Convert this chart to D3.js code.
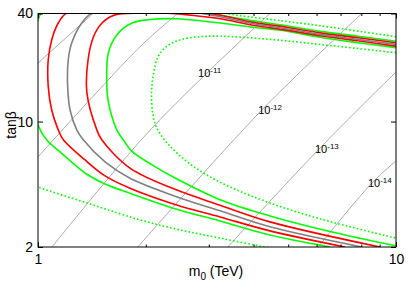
<!DOCTYPE html>
<html>
<head>
<meta charset="utf-8">
<script src="https://cdn.jsdelivr.net/npm/d3@7"></script>
<style>
  body { margin: 0; background: #fff; }
  svg text { font-family: "Liberation Sans", Arial, sans-serif; fill: #000; }
</style>
</head>
<body>
<svg id="chart" width="415" height="291"></svg>
<script>
// axis ticks
const xTicks = [1, 10];
const xMinorTicks = [2, 3, 4, 5, 6, 7, 8, 9];
const yTicks = [2, 10, 40];

// contours, points are [m0 (TeV), tanβ]
const dottedInner = [
  [10, 24.2], [6.13, 26.9], [4.45, 28.7], [3.23, 29.9], [2.84, 29.7], [2.49, 28.5],
  [2.28, 26.1], [2.16, 22.7], [2.10, 18.2], [2.075, 14.1], [2.096, 10.9], [2.146, 9.22],
  [2.307, 7.51], [2.574, 6.11], [2.927, 5.11], [3.439, 4.32], [4.446, 3.52], [6.134, 2.87], [10, 2.24]
];
const greenInner = [
  [10, 25.8], [7.83, 27.5], [6.13, 29.5], [4.95, 31.9], [3.99, 33.5], [3.23, 35.4],
  [2.41, 37.4], [2.03, 36.9], [1.83, 35.4], [1.66, 30.4], [1.572, 24.1], [1.556, 17.8],
  [1.569, 13.2], [1.66, 8.99], [1.731, 7.91], [1.827, 6.84], [2.078, 5.75], [2.414, 4.85],
  [3.225, 3.67], [4.446, 2.98], [6.54, 2.44], [10, 2.03]
];
const redInner = [
  [10, 26.3], [7.83, 28.2], [6.13, 30.1], [4.95, 32.3], [3.99, 34.4], [3.23, 37.4],
  [2.84, 38.6], [2.31, 40.2], [1.93, 40.2], [1.64, 39.3], [1.51, 35.4], [1.43, 29.8],
  [1.38, 22.1], [1.37, 14.4], [1.46, 8.99], [1.507, 7.91], [1.807, 5.50], [2.414, 4.19],
  [3.225, 3.42], [4.446, 2.76], [9.02, 2.0]
];
const grayMid = [
  [10, 26.9], [7.83, 28.7], [6.13, 30.6], [4.95, 32.9], [3.99, 35.06], [3.23, 38.35],
  [2.84, 40.1], [2.34, 42.5], [1.807, 43.1], [1.539, 42.0], [1.41, 40.1], [1.325, 35.4],
  [1.242, 27.4], [1.215, 22.1], [1.21, 15.7], [1.229, 11.6], [1.283, 8.99], [1.338, 7.91],
  [1.539, 5.96], [1.807, 4.83], [2.414, 3.84], [3.225, 3.18], [4.446, 2.59], [8.02, 2.0]
];
const redOuter = [
  [10, 27.5], [7.83, 29.3], [6.13, 31.2], [4.95, 33.5], [3.99, 35.7], [3.23, 39.1],
  [2.95, 40.1], [2.49, 43.6], [1.81, 45.9], [1.397, 44.7], [1.197, 40.1], [1.139, 35.4],
  [1.092, 28.5], [1.068, 22.1], [1.068, 15.7], [1.092, 11.6], [1.139, 8.99], [1.177, 7.91],
  [1.353, 6.11], [1.539, 4.98], [1.807, 4.25], [2.414, 3.45], [3.225, 2.94], [4.446, 2.46], [7.203, 2.0]
];
const greenOuter = [
  [10, 28.0], [7.83, 29.9], [6.13, 31.8], [4.95, 34.2], [3.99, 36.4], [3.06, 40.1],
  [2.49, 44.7], [1.81, 48.3], [1.31, 47.7], [1.08, 44.7], [1.019, 40.1], [1.0, 36.9],
  [0.975, 28.5], [0.962, 19.4], [0.968, 13.2], [1.002, 9.46], [1.057, 7.91], [1.152, 6.78],
  [1.353, 5.17], [1.539, 4.49], [1.807, 3.99], [2.414, 3.27], [3.225, 2.79], [4.446, 2.33], [6.541, 2.0]
];
const dottedOuterTop = [
  [10, 29.7], [6.13, 34.2], [4.45, 37.1], [3.33, 40.1], [2.6, 45]
];
const dottedOuterBottom = [
  [0.9, 4.7], [1.0, 4.32], [1.40, 3.47], [1.93, 2.83], [2.49, 2.49], [3.23, 2.24], [4.31, 2.0], [5, 1.9]
];

// thin iso-lines and their labels
const isoLines = [
  [[1.0, 21.2], [1.427, 40.1]],
  [[1.0, 6.35], [1.927, 26.1], [2.46, 40.1]],
  [[1.094, 2.0], [1.965, 8.11], [2.985, 18.9], [4.45, 40.1]],
  [[1.90, 2.0], [4.22, 11.6], [8.04, 40.1]],
  [[3.39, 2.0], [6.06, 6.95], [10, 18.9]],
  [[6.06, 2.0], [8.57, 4.55], [10, 6.03]]
];
const isoLabels = ["-11", "-12", "-13", "-14"];
const isoLabelPos = [[2.80, 17.7], [4.12, 11.0], [5.94, 6.69], [8.35, 4.32]];

const svg = d3.select('#chart');
const pLeft = 38, pRight = 396, pTop = 13.5, pBottom = 247;

const x = d3.scaleLog().domain([1, 10]).range([pLeft, pRight]);
const y = d3.scaleLog().domain([2, 40]).range([pBottom, pTop]);

svg.append('clipPath').attr('id', 'plot-clip')
  .append('rect')
  .attr('x', pLeft).attr('y', pTop)
  .attr('width', pRight - pLeft).attr('height', pBottom - pTop);

const plot = svg.append('g').attr('clip-path', 'url(#plot-clip)');

const line = d3.line()
  .x(d => x(d[0]))
  .y(d => y(d[1]))
  .curve(d3.curveCatmullRom.alpha(0.5));

isoLines.forEach(pts => {
  plot.append('path')
    .attr('d', line(pts))
    .attr('fill', 'none')
    .attr('stroke', '#a0a0a0')
    .attr('stroke-width', 0.9);
});

const contours = [
  { pts: dottedInner, color: '#00ff00', dash: '1.6,2.2' },
  { pts: dottedOuterTop, color: '#00ff00', dash: '1.6,2.2' },
  { pts: dottedOuterBottom, color: '#00ff00', dash: '1.6,2.2' },
  { pts: greenInner, color: '#00ff00' },
  { pts: greenOuter, color: '#00ff00' },
  { pts: redInner, color: '#ff0000' },
  { pts: redOuter, color: '#ff0000' },
  { pts: grayMid, color: '#808080' }
];

contours.forEach(c => {
  plot.append('path')
    .attr('d', line(c.pts))
    .attr('fill', 'none')
    .attr('stroke', c.color)
    .attr('stroke-width', 1.6)
    .attr('stroke-dasharray', c.dash || null);
});

isoLabels.forEach((lab, i) => {
  const t = svg.append('text')
    .attr('x', x(isoLabelPos[i][0]))
    .attr('y', y(isoLabelPos[i][1]))
    .attr('font-size', 11);
  t.append('tspan').text('10');
  t.append('tspan').attr('dy', -4).attr('font-size', 8).text(lab);
});

// axes, ticks pointing inwards on all four sides
function addAxis(axis, tx, ty, vals, size, labels) {
  const g = svg.append('g')
    .attr('transform', `translate(${tx},${ty})`)
    .call(axis.tickValues(vals).tickSize(size).tickSizeOuter(0)
      .tickFormat(labels ? d3.format('d') : ''));
  g.select('.domain').remove();
  g.selectAll('line').attr('stroke', '#000');
  g.selectAll('text').attr('font-size', 14).attr('font-family', '"Liberation Sans", Arial, sans-serif');
  return g;
}

const xb = addAxis(d3.axisBottom(x), 0, pBottom, xTicks, -5, true);
xb.selectAll('text').attr('y', 7);
addAxis(d3.axisBottom(x), 0, pBottom, xMinorTicks, -2.5, false);
addAxis(d3.axisTop(x), 0, pTop, xTicks, -5, false);
addAxis(d3.axisTop(x), 0, pTop, xMinorTicks, -2.5, false);

const yl = addAxis(d3.axisLeft(y), pLeft, 0, yTicks, -5, true);
yl.selectAll('text').attr('x', -5);
addAxis(d3.axisRight(y), pRight, 0, yTicks, -5, false);

svg.append('rect')
  .attr('x', pLeft).attr('y', pTop)
  .attr('width', pRight - pLeft).attr('height', pBottom - pTop)
  .attr('fill', 'none').attr('stroke', '#000').attr('stroke-width', 1);

// axis titles
const xt = svg.append('text')
  .attr('x', 216).attr('y', 276)
  .attr('text-anchor', 'middle')
  .attr('font-size', 14);
xt.append('tspan').text('m');
xt.append('tspan').attr('dy', 4).attr('font-size', 10).text('0');
xt.append('tspan').attr('dy', -4).text(' (TeV)');

svg.append('text')
  .attr('transform', 'translate(16,125) rotate(-90)')
  .attr('text-anchor', 'middle')
  .attr('font-size', 14)
  .text('tanβ');
</script>
</body>
</html>
